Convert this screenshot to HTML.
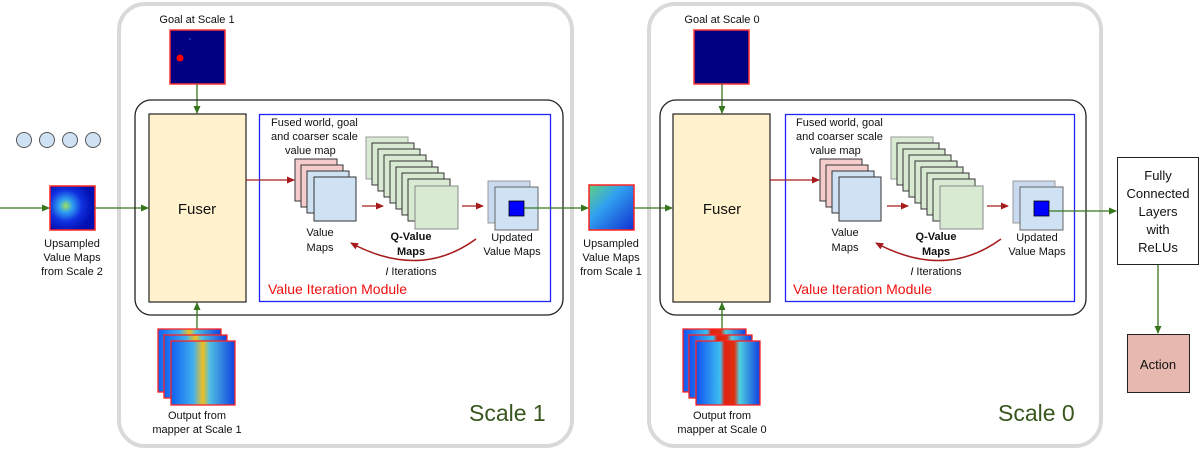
<!DOCTYPE html>
<html><head><meta charset="utf-8"><style>
html,body{margin:0;padding:0;background:#fff;width:1200px;height:450px;overflow:hidden}
text{font-family:"Liberation Sans",Arial,sans-serif;fill:#111}
</style></head><body>
<svg width="1200" height="450" viewBox="0 0 1200 450" xmlns="http://www.w3.org/2000/svg">
<defs>
<marker id="ag" markerWidth="8" markerHeight="8" refX="7" refY="4" orient="auto" markerUnits="userSpaceOnUse"><path d="M0,0.5 L8,4 L0,7.5z" fill="#38761d"/></marker>
<marker id="ar" markerWidth="8" markerHeight="8" refX="7" refY="4" orient="auto" markerUnits="userSpaceOnUse"><path d="M0,0.5 L8,4 L0,7.5z" fill="#a61c1c"/></marker>
<radialGradient id="h1" cx="0.35" cy="0.45" r="0.6"><stop offset="0" stop-color="#9fe060"/><stop offset="0.25" stop-color="#2fa0f0"/><stop offset="0.6" stop-color="#1030e0"/><stop offset="1" stop-color="#0010b0"/></radialGradient>
<linearGradient id="h2" x1="0" y1="0" x2="1" y2="0"><stop offset="0" stop-color="#1060f0"/><stop offset="0.35" stop-color="#40b0f0"/><stop offset="0.5" stop-color="#f0c020"/><stop offset="0.6" stop-color="#50c0e0"/><stop offset="1" stop-color="#1040e0"/></linearGradient>
<linearGradient id="h3" x1="0" y1="0" x2="1" y2="0"><stop offset="0" stop-color="#1050f0"/><stop offset="0.38" stop-color="#40c0f0"/><stop offset="0.45" stop-color="#e02010"/><stop offset="0.6" stop-color="#e03010"/><stop offset="0.68" stop-color="#50d0e0"/><stop offset="1" stop-color="#1040e0"/></linearGradient>
<linearGradient id="h4" x1="0" y1="0" x2="1" y2="1"><stop offset="0" stop-color="#60d080"/><stop offset="0.4" stop-color="#30a0f0"/><stop offset="1" stop-color="#1030d0"/></linearGradient>
</defs>

<rect x="119" y="4" width="453" height="442" rx="26" fill="none" stroke="#d9d9d9" stroke-width="4"/>
<rect x="649" y="4" width="452" height="442" rx="26" fill="none" stroke="#d9d9d9" stroke-width="4"/>
<text x="469" y="421" font-size="23" style="fill:#38561d">Scale 1</text>
<text x="998" y="421" font-size="23" style="fill:#38561d">Scale 0</text>

<g fill="#cfe2f3" stroke="#555" stroke-width="1"><circle cx="24" cy="140" r="7.5"/><circle cx="47" cy="140" r="7.5"/><circle cx="70" cy="140" r="7.5"/><circle cx="93" cy="140" r="7.5"/></g>

<line x1="0" y1="208" x2="49" y2="208" stroke="#38761d" stroke-width="1.3" marker-end="url(#ag)"/>
<rect x="50" y="186" width="45" height="44" fill="url(#h1)" stroke="#f22" stroke-width="1.5"/>
<line x1="95" y1="208" x2="148" y2="208" stroke="#38761d" stroke-width="1.3" marker-end="url(#ag)"/>
<text font-size="11" text-anchor="middle"><tspan x="72" y="247">Upsampled</tspan><tspan x="72" y="261">Value Maps</tspan><tspan x="72" y="275">from Scale 2</tspan></text>

<g id="s1">
<text x="197" y="23" font-size="11" text-anchor="middle">Goal at Scale 1</text>
<rect x="170" y="30" width="55" height="54" fill="#000080" stroke="#f33" stroke-width="1.5"/>
<circle cx="180" cy="58" r="3.5" fill="#f00"/><circle cx="190" cy="39" r="0.8" fill="#36f"/>
<line x1="197" y1="84" x2="197" y2="113" stroke="#38761d" stroke-width="1.3" marker-end="url(#ag)"/>
<rect x="135" y="100" width="428" height="215" rx="16" fill="none" stroke="#222" stroke-width="1.3"/>
<rect x="149" y="114" width="97" height="188" fill="#fff2cc" stroke="#222" stroke-width="1.2"/>
<text x="197" y="214" font-size="15" text-anchor="middle">Fuser</text>
<rect x="259.5" y="114.5" width="291" height="187" fill="none" stroke="#2222ff" stroke-width="1.3"/>
<text font-size="11"><tspan x="271" y="126">Fused world, goal</tspan><tspan x="271" y="140">and coarser scale</tspan><tspan x="285" y="154">value map</tspan></text>
<line x1="246" y1="180" x2="294" y2="180" stroke="#a61c1c" stroke-width="1.3" marker-end="url(#ar)"/>
<g stroke="#333" stroke-width="1">
<rect x="295" y="159" width="42" height="42" fill="#f4cccc"/>
<rect x="301" y="165" width="42" height="42" fill="#f4cccc"/>
<rect x="307" y="171" width="42" height="42" fill="#cfe2f3"/>
<rect x="314" y="177" width="42" height="44" fill="#cfe2f3"/>
</g>
<g stroke="#333" stroke-width="1" fill="#d9ead3">
<rect x="366" y="137" width="42" height="42" stroke="#999"/>
<rect x="372" y="143" width="42" height="42"/>
<rect x="378" y="149" width="42" height="42"/>
<rect x="384" y="155" width="42" height="42"/>
<rect x="390" y="161" width="42" height="42"/>
<rect x="396" y="167" width="42" height="42"/>
<rect x="402" y="173" width="42" height="42"/>
<rect x="408" y="179" width="42" height="42"/>
<rect x="415" y="186" width="43" height="43" stroke="#888"/>
</g>
<line x1="362" y1="206" x2="383" y2="206" stroke="#a61c1c" stroke-width="1.3" marker-end="url(#ar)"/>
<line x1="462" y1="206" x2="483" y2="206" stroke="#a61c1c" stroke-width="1.3" marker-end="url(#ar)"/>
<rect x="488" y="181" width="42" height="42" fill="#c9daf0" stroke="#999"/>
<rect x="495" y="187" width="43" height="43" fill="#cfe2f3" stroke="#666"/>
<rect x="509" y="201" width="15" height="15" fill="#0000ff" stroke="#000" stroke-width="0.8"/>
<text font-size="11" text-anchor="middle"><tspan x="320" y="236">Value</tspan><tspan x="320" y="251">Maps</tspan></text>
<text font-size="11" text-anchor="middle" font-weight="bold"><tspan x="411" y="240">Q-Value</tspan><tspan x="411" y="255">Maps</tspan></text>
<text x="411" y="275" font-size="11" text-anchor="middle"><tspan font-style="italic">I</tspan> Iterations</text>
<text font-size="11" text-anchor="middle"><tspan x="512" y="241">Updated</tspan><tspan x="512" y="255">Value Maps</tspan></text>
<path d="M476,239 Q420,280 351,243" fill="none" stroke="#a61c1c" stroke-width="1.5" marker-end="url(#ar)"/>
<text x="268" y="294" font-size="14" style="fill:#f01010">Value Iteration Module</text>
<line x1="197" y1="330" x2="197" y2="303" stroke="#38761d" stroke-width="1.3" marker-end="url(#ag)"/>
</g>

<rect x="158" y="329" width="63" height="63" fill="url(#h2)" stroke="#f22" stroke-width="1.3"/>
<rect x="164" y="335" width="63" height="63" fill="url(#h2)" stroke="#f22" stroke-width="1.3"/>
<rect x="171" y="341" width="64" height="64" fill="url(#h2)" stroke="#f22" stroke-width="1.3"/>
<text font-size="11" text-anchor="middle"><tspan x="197" y="419">Output from</tspan><tspan x="197" y="433">mapper at Scale 1</tspan></text>

<line x1="524" y1="208" x2="588" y2="208" stroke="#38761d" stroke-width="1.3" marker-end="url(#ag)"/>
<rect x="589" y="185" width="45" height="45" fill="url(#h4)" stroke="#f22" stroke-width="1.5"/>
<line x1="634" y1="208" x2="672" y2="208" stroke="#38761d" stroke-width="1.3" marker-end="url(#ag)"/>
<text font-size="11" text-anchor="middle"><tspan x="611" y="247">Upsampled</tspan><tspan x="611" y="261">Value Maps</tspan><tspan x="611" y="275">from Scale 1</tspan></text>

<g transform="translate(525,0)">
<text x="197" y="23" font-size="11" text-anchor="middle">Goal at Scale 0</text>
<rect x="169" y="30" width="55" height="54" fill="#000080" stroke="#f33" stroke-width="1.5"/>
<line x1="197" y1="84" x2="197" y2="113" stroke="#38761d" stroke-width="1.3" marker-end="url(#ag)"/>
<rect x="135" y="100" width="426" height="215" rx="16" fill="none" stroke="#222" stroke-width="1.3"/>
<rect x="148" y="114" width="97" height="188" fill="#fff2cc" stroke="#222" stroke-width="1.2"/>
<text x="197" y="214" font-size="15" text-anchor="middle">Fuser</text>
<rect x="260.5" y="114.5" width="289" height="187" fill="none" stroke="#2222ff" stroke-width="1.3"/>
<text font-size="11"><tspan x="271" y="126">Fused world, goal</tspan><tspan x="271" y="140">and coarser scale</tspan><tspan x="285" y="154">value map</tspan></text>
<line x1="245" y1="180" x2="294" y2="180" stroke="#a61c1c" stroke-width="1.3" marker-end="url(#ar)"/>
<g stroke="#333" stroke-width="1">
<rect x="295" y="159" width="42" height="42" fill="#f4cccc"/>
<rect x="301" y="165" width="42" height="42" fill="#f4cccc"/>
<rect x="307" y="171" width="42" height="42" fill="#cfe2f3"/>
<rect x="314" y="177" width="42" height="44" fill="#cfe2f3"/>
</g>
<g stroke="#333" stroke-width="1" fill="#d9ead3">
<rect x="366" y="137" width="42" height="42" stroke="#999"/>
<rect x="372" y="143" width="42" height="42"/>
<rect x="378" y="149" width="42" height="42"/>
<rect x="384" y="155" width="42" height="42"/>
<rect x="390" y="161" width="42" height="42"/>
<rect x="396" y="167" width="42" height="42"/>
<rect x="402" y="173" width="42" height="42"/>
<rect x="408" y="179" width="42" height="42"/>
<rect x="415" y="186" width="43" height="43" stroke="#888"/>
</g>
<line x1="362" y1="206" x2="383" y2="206" stroke="#a61c1c" stroke-width="1.3" marker-end="url(#ar)"/>
<line x1="462" y1="206" x2="483" y2="206" stroke="#a61c1c" stroke-width="1.3" marker-end="url(#ar)"/>
<rect x="488" y="181" width="42" height="42" fill="#c9daf0" stroke="#999"/>
<rect x="495" y="187" width="43" height="43" fill="#cfe2f3" stroke="#666"/>
<rect x="509" y="201" width="15" height="15" fill="#0000ff" stroke="#000" stroke-width="0.8"/>
<text font-size="11" text-anchor="middle"><tspan x="320" y="236">Value</tspan><tspan x="320" y="251">Maps</tspan></text>
<text font-size="11" text-anchor="middle" font-weight="bold"><tspan x="411" y="240">Q-Value</tspan><tspan x="411" y="255">Maps</tspan></text>
<text x="411" y="275" font-size="11" text-anchor="middle"><tspan font-style="italic">I</tspan> Iterations</text>
<text font-size="11" text-anchor="middle"><tspan x="512" y="241">Updated</tspan><tspan x="512" y="255">Value Maps</tspan></text>
<path d="M476,239 Q420,280 351,243" fill="none" stroke="#a61c1c" stroke-width="1.5" marker-end="url(#ar)"/>
<text x="268" y="294" font-size="14" style="fill:#f01010">Value Iteration Module</text>
<line x1="197" y1="330" x2="197" y2="303" stroke="#38761d" stroke-width="1.3" marker-end="url(#ag)"/>
<rect x="158" y="329" width="63" height="63" fill="url(#h3)" stroke="#f22" stroke-width="1.3"/>
<rect x="164" y="335" width="63" height="63" fill="url(#h3)" stroke="#f22" stroke-width="1.3"/>
<rect x="171" y="341" width="64" height="64" fill="url(#h3)" stroke="#f22" stroke-width="1.3"/>
<text font-size="11" text-anchor="middle"><tspan x="197" y="419">Output from</tspan><tspan x="197" y="433">mapper at Scale 0</tspan></text>
</g>

<line x1="1049" y1="211" x2="1116" y2="211" stroke="#38761d" stroke-width="1.3" marker-end="url(#ag)"/>
<rect x="1117.5" y="157.5" width="81" height="107" fill="#fff" stroke="#222" stroke-width="1"/>
<text font-size="13" text-anchor="middle"><tspan x="1158" y="180">Fully</tspan><tspan x="1158" y="198">Connected</tspan><tspan x="1158" y="216">Layers</tspan><tspan x="1158" y="234">with</tspan><tspan x="1158" y="252">ReLUs</tspan></text>
<line x1="1158" y1="265" x2="1158" y2="333" stroke="#38761d" stroke-width="1.3" marker-end="url(#ag)"/>
<rect x="1127.5" y="334.5" width="62" height="58" fill="#e6b8af" stroke="#222" stroke-width="1"/>
<text x="1158" y="369" font-size="13" text-anchor="middle">Action</text>
</svg>
</body></html>
